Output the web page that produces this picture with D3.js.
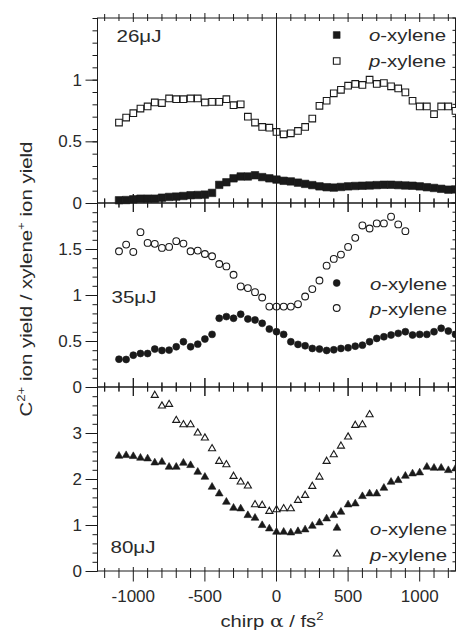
<!DOCTYPE html>
<html><head><meta charset="utf-8">
<script src="https://cdn.jsdelivr.net/npm/d3@7"></script>
<style>body{margin:0;background:#fff}</style>
</head><body><svg id="c" width="456" height="634"></svg>
<script>
// chirp values (fs^2) for the full scan
const chirp = [-1100,-1050,-1000,-950,-900,-850,-800,-750,-700,-650,-600,-550,-500,-450,-400,-350,-300,-250,-200,-150,-100,-50,0,50,100,150,200,250,300,350,400,450,500,550,600,650,700,750,800,850,900,950,1000,1050,1100,1150,1200,1250];
// 26 uJ
const oTop = [0.022,0.024,0.030,0.035,0.035,0.035,0.043,0.049,0.052,0.057,0.063,0.065,0.068,0.082,
  0.147,0.168,0.200,0.215,0.215,0.225,0.210,0.200,0.190,0.180,
  0.175,0.165,0.155,0.145,0.135,0.128,0.125,0.130,0.135,0.138,
  0.140,0.142,0.145,0.148,0.148,0.145,0.142,0.140,0.135,0.128,
  0.122,0.115,0.108,0.110];
const pTop = [0.652,0.693,0.728,0.766,0.783,0.815,0.810,0.848,0.842,0.842,0.848,0.848,0.815,0.820,0.820,0.842,0.793,0.800,
  0.700,0.652,0.617,0.611,0.576,0.557,0.565,0.584,0.617,0.685,
  0.788,0.829,0.889,0.918,0.951,0.965,0.957,1.000,0.965,0.973,
  0.946,0.929,0.897,0.829,0.783,0.783,0.720,0.783,0.783,0.747];
// 35 uJ
const oMid = [0.302,0.299,0.346,0.364,0.364,0.412,0.397,0.401,0.437,0.492,
  0.437,0.466,0.521,0.572,0.747,0.765,0.747,0.791,0.740,0.729,
  0.692,0.630,0.601,0.572,0.492,0.463,0.448,0.419,0.412,0.397,
  0.404,0.419,0.426,0.444,0.455,0.492,0.528,0.546,0.565,0.583,
  0.601,0.565,0.572,0.572,0.601,0.638,0.608,0.572];
const pMidChirp = [-1100,-1050,-1000,-950,-900,-850,-800,-750,-700,-650,-600,-550,-500,-450,-400,-350,-300,-250,-200,-150,-100,-50,0,50,100,150,200,250,300,350,400,450,500,550,600,650,700,750,800,850,900];
const pMid = [1.475,1.548,1.468,1.683,1.566,1.556,1.512,1.523,1.585,1.559,
  1.475,1.483,1.446,1.421,1.337,1.311,1.220,1.093,1.075,1.031,
  0.973,0.874,0.874,0.874,0.874,0.900,0.984,1.064,1.158,1.319,
  1.392,1.439,1.523,1.621,1.756,1.723,1.778,1.778,1.851,1.767,
  1.694];
// 80 uJ
const oBot = [2.500,2.514,2.493,2.457,2.442,2.355,2.370,2.261,2.261,2.348,
  2.297,2.152,2.043,1.826,1.681,1.500,1.370,1.355,1.210,1.152,
  0.993,0.920,0.848,0.848,0.833,0.862,0.899,0.978,1.051,1.138,
  1.210,1.283,1.442,1.464,1.623,1.681,1.681,1.804,1.935,1.971,
  2.065,2.116,2.138,2.261,2.239,2.239,2.188,2.225];
const pBotChirp = [-850,-800,-750,-700,-650,-600,-550,-500,-450,-400,-350,-300,-250,-200,-150,-100,-50,0,50,100,150,200,250,300,350,400,450,500,550,600,650];
const pBot = [3.819,3.587,3.623,3.275,3.181,3.181,3.000,2.891,2.659,2.384,
  2.312,2.058,1.935,1.848,1.442,1.428,1.297,1.333,1.355,1.355,
  1.536,1.645,1.841,2.043,2.384,2.529,2.717,2.913,3.167,3.181,
  3.399];

const energyLabels = ["26μJ","35μJ","80μJ"];
const yMax = [1.5, 2, 4];
const yMajor = [[0,0.5,1],[0,0.5,1,1.5],[0,1,2,3]];
const xMajor = [-1000,-500,0,500,1000];

const ink = "#1a1a1a", txt = "#2a2a2a";
const FONT = "Liberation Sans, Arial, Helvetica, sans-serif";
const svg = d3.select("#c");
const x = d3.scaleLinear().domain([-1250,1250]).range([97.5,455.5]);

const layout = [
  {top:18, bottom:203, shape:d3.symbolSquare, sizeO:56, sizeP:44,
   o:{cx:chirp, v:oTop}, p:{cx:chirp, v:pTop}, nMinor:15,
   lab:{x:116.5, y:41.5}, leg:{mx:336.7, y1:35, y2:61, tx:369, off:6}},
  {top:203, bottom:387, shape:d3.symbolCircle, sizeO:38, sizeP:36,
   o:{cx:chirp, v:oMid}, p:{cx:pMidChirp, v:pMid}, nMinor:20,
   lab:{x:111.5, y:303}, leg:{mx:336.7, y1:283, y2:308, tx:370, off:7}},
  {top:387, bottom:571, shape:d3.symbolTriangle, sizeO:26, sizeP:22,
   o:{cx:chirp, v:oBot}, p:{cx:pBotChirp, v:pBot}, nMinor:20,
   lab:{x:110.5, y:553}, leg:{mx:337, y1:528, y2:554, tx:370, off:7}}
];

layout.forEach((P, i) => {
  const y = d3.scaleLinear().domain([0, yMax[i]]).range([P.bottom, P.top]);
  const g = svg.append("g");
  g.append("rect").attr("x", x(-1250)).attr("y", P.top)
    .attr("width", x(1250)-x(-1250)).attr("height", P.bottom-P.top)
    .attr("fill","none").attr("stroke", ink).attr("stroke-width",1);
  const minorG = g.append("g").attr("transform",`translate(${x(-1250)},0)`)
    .call(d3.axisLeft(y).ticks(P.nMinor).tickSize(5).tickFormat(""));
  minorG.select(".domain").remove();
  minorG.selectAll("line").attr("stroke", ink);
  const majG = g.append("g").attr("transform",`translate(${x(-1250)},0)`)
    .call(d3.axisLeft(y).tickValues(yMajor[i]).tickSize(12).tickPadding(3.5).tickFormat(d => String(d)));
  majG.select(".domain").remove();
  majG.selectAll("line").attr("stroke", ink);
  majG.selectAll("text").attr("font-family", FONT).attr("font-size", 17).attr("fill", txt);
  g.selectAll(".rt").data(y.ticks(P.nMinor)).join("line")
    .attr("x1", x(1250)).attr("x2", d => x(1250) - (yMajor[i].includes(+d.toFixed(3)) ? 5 : 3))
    .attr("y1", d => y(d)).attr("y2", d => y(d)).attr("stroke", ink);

  const xt = x.ticks(25);
  // [outside-up, inside-down] lengths for minor/major
  const edges = [
    {yy:P.top, up: i===0 ? [4,5] : [4.5,9], down: i===0 ? [3,4] : [4.5,9]},
    {yy:P.bottom, up: i===2 ? [3,4] : [4.5,9], down: i===2 ? [7,10.5] : [4.5,9]}
  ];
  edges.forEach(E => {
    g.selectAll(null).data(xt).join("line")
      .attr("x1", d => x(d)).attr("x2", d => x(d))
      .attr("y1", d => E.yy - E.up[xMajor.includes(d) ? 1 : 0])
      .attr("y2", d => E.yy + E.down[xMajor.includes(d) ? 1 : 0])
      .attr("stroke", ink);
  });

  g.selectAll(".po").data(P.p.v.map((v,k)=>[P.p.cx[k], v])).join("path")
    .attr("d", d3.symbol().type(P.shape).size(P.sizeP)())
    .attr("transform", d => `translate(${x(d[0])},${y(d[1])})`)
    .attr("fill","#fff").attr("stroke", ink).attr("stroke-width",1.1);
  g.selectAll(".oo").data(P.o.v.map((v,k)=>[P.o.cx[k], v])).join("path")
    .attr("d", d3.symbol().type(P.shape).size(P.sizeO)())
    .attr("transform", d => `translate(${x(d[0])},${y(d[1])})`)
    .attr("fill", ink).attr("stroke", ink).attr("stroke-width",0.6);

  g.append("text").attr("x", P.lab.x).attr("y", P.lab.y)
    .attr("font-family", FONT).attr("font-size", 17).attr("fill", txt)
    .attr("textLength", 45).attr("lengthAdjust","spacingAndGlyphs")
    .text(energyLabels[i]);

  [[P.leg.y1, true, "o"], [P.leg.y2, false, "p"]].forEach(([ly, filled, letter]) => {
    g.append("path")
      .attr("d", d3.symbol().type(P.shape).size(filled ? Math.min(P.sizeO,46) : P.sizeP)())
      .attr("transform", `translate(${P.leg.mx},${ly})`)
      .attr("fill", filled ? ink : "#fff").attr("stroke", ink).attr("stroke-width", filled ? 0.6 : 1.1);
    const t = g.append("text").attr("x", P.leg.tx).attr("y", ly + P.leg.off)
      .attr("font-family", FONT).attr("font-size", 17).attr("fill", txt)
      .attr("textLength", 77).attr("lengthAdjust","spacingAndGlyphs");
    t.append("tspan").attr("font-style","italic").text(letter);
    t.append("tspan").text("-xylene");
  });
});

svg.append("line").attr("x1", x(0)).attr("x2", x(0)).attr("y1", 18).attr("y2", 571)
  .attr("stroke", ink).attr("stroke-width", 1);

svg.append("g").selectAll("text").data(xMajor).join("text")
  .attr("x", d => x(d)).attr("y", 601.5).attr("text-anchor","middle")
  .attr("font-family", FONT).attr("font-size", 17).attr("fill", txt)
  .text(d => String(d));

const xl = svg.append("text").attr("x", 272).attr("y", 627).attr("text-anchor","middle")
  .attr("font-family", FONT).attr("font-size", 17).attr("fill", txt)
  .attr("textLength", 103).attr("lengthAdjust","spacingAndGlyphs");
xl.append("tspan").text("chirp ");
xl.append("tspan").attr("font-family","DejaVu Serif, serif").text("α");
xl.append("tspan").text(" / fs");
xl.append("tspan").attr("font-size", 11).attr("dy", -7).text("2");

const yl = svg.append("text").attr("transform","translate(31.5,279) rotate(-90)")
  .attr("text-anchor","middle")
  .attr("font-family", FONT).attr("font-size", 17).attr("fill", txt)
  .attr("textLength", 275).attr("lengthAdjust","spacingAndGlyphs");
yl.append("tspan").text("C");
yl.append("tspan").attr("font-size", 11).attr("dy", -7).text("2+");
yl.append("tspan").attr("dy", 7).text(" ion yield / xylene");
yl.append("tspan").attr("font-size", 11).attr("dy", -7).text("+");
yl.append("tspan").attr("dy", 7).text(" ion yield");
</script>
</body></html>
